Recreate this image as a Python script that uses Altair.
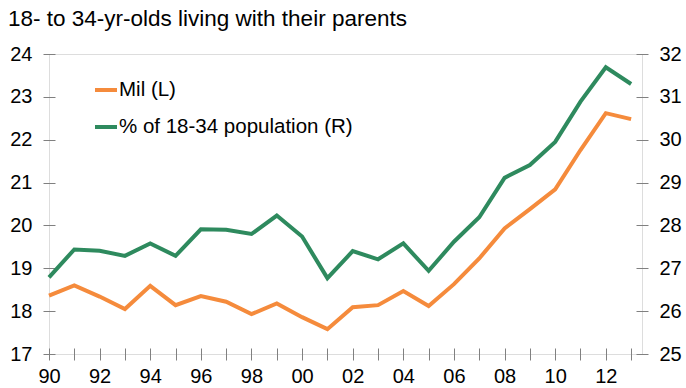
import altair as alt
import pandas as pd

# Annual series, 1990-2013
years = list(range(1990, 2014))
mil = [18.36, 18.60, 18.34, 18.05, 18.59, 18.14, 18.35, 18.22, 17.93, 18.18,
       17.86, 17.58, 18.09, 18.14, 18.47, 18.12, 18.63, 19.23, 19.93, 20.38,
       20.84, 21.76, 22.62, 22.48]
pct = [26.79, 27.44, 27.41, 27.29, 27.58, 27.29, 27.91, 27.90, 27.80, 28.23,
       27.74, 26.77, 27.40, 27.21, 27.58, 26.94, 27.62, 28.19, 29.11, 29.41,
       29.95, 30.89, 31.69, 31.30]

series_names = ["Mil (L)", "% of 18-34 population (R)"]
series_colors = ["#F58B3C", "#2E8A5E"]
left_ticks = [17, 18, 19, 20, 21, 22, 23, 24]
right_ticks = [25, 26, 27, 28, 29, 30, 31, 32]

df_l = pd.DataFrame({"year": years, "value": mil, "series": series_names[0]})
df_r = pd.DataFrame({"year": years, "value": pct, "series": series_names[1]})

FONT = "Liberation Sans"
GRAY = "#808080"

x = alt.X(
    "year:Q",
    scale=alt.Scale(domain=[1990, 2013.43], nice=False, zero=False),
    axis=alt.Axis(
        title=None, values=years, domain=False, offset=-6, tickSize=12,
        tickColor=GRAY, labelPadding=6, labelFontSize=20, labelFont=FONT,
        labelColor="black", grid=False, labelFlush=False,
        labelExpr="datum.value % 2 == 0 ? slice(toString(datum.value), 2) : ''",
    ),
)

color = alt.Color(
    "series:N",
    scale=alt.Scale(domain=series_names, range=series_colors),
    legend=alt.Legend(
        title=None, orient="none", legendX=44, legendY=23, padding=0,
        symbolType="stroke", symbolSize=484, symbolStrokeWidth=4,
        labelFontSize=20.5, labelFont=FONT, labelColor="black", labelOffset=0,
        rowPadding=13, labelLimit=400,
    ),
)

left = alt.Chart(df_l).mark_line(strokeWidth=4).encode(
    x=x,
    y=alt.Y(
        "value:Q",
        scale=alt.Scale(domain=[17, 24], nice=False, zero=False),
        axis=alt.Axis(
            title=None, values=left_ticks, orient="left", domain=False,
            offset=-6, tickSize=12, tickColor=GRAY, labelPadding=11,
            labelFontSize=20, labelFont=FONT, labelColor="black", grid=False,
        ),
    ),
    color=color,
)

right = alt.Chart(df_r).mark_line(strokeWidth=4).encode(
    x=x,
    y=alt.Y(
        "value:Q",
        scale=alt.Scale(domain=[25, 32], nice=False, zero=False),
        axis=alt.Axis(
            title=None, values=right_ticks, orient="right", domain=False,
            offset=-6, tickSize=12, tickColor=GRAY, labelPadding=11,
            labelFontSize=20, labelFont=FONT, labelColor="black", grid=False,
        ),
    ),
    color=color,
)

chart = (
    alt.layer(left, right)
    .resolve_scale(y="independent")
    .properties(
        width=593,
        height=300,
        autosize=alt.AutoSizeParams(type="none"),
        padding={"left": 49, "top": 54, "right": 44, "bottom": 34},
        title=alt.TitleParams(
            "18- to 34-yr-olds living with their parents",
            anchor="start", frame="group", dx=-41, offset=14,
            fontSize=22.5, font=FONT, fontWeight="normal", color="black",
        ),
    )
    .configure_view(stroke=GRAY, strokeWidth=1)
    .configure(background="white")
)

chart.save("out.html", embed_options={"renderer": "svg", "actions": False})
